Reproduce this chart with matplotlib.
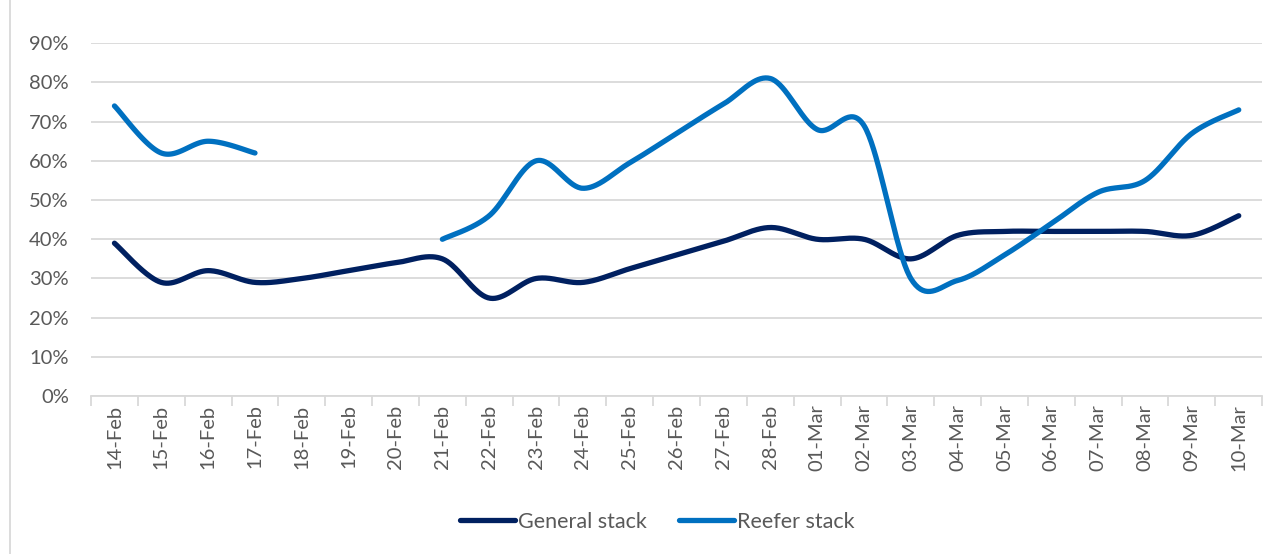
import numpy as np
import matplotlib.pyplot as plt
from matplotlib.lines import Line2D
from matplotlib.patches import Rectangle

plt.rcParams['font.family'] = ['Lato', 'DejaVu Sans']

dates = ['14-Feb', '15-Feb', '16-Feb', '17-Feb', '18-Feb', '19-Feb', '20-Feb',
         '21-Feb', '22-Feb', '23-Feb', '24-Feb', '25-Feb', '26-Feb', '27-Feb',
         '28-Feb', '01-Mar', '02-Mar', '03-Mar', '04-Mar', '05-Mar', '06-Mar',
         '07-Mar', '08-Mar', '09-Mar', '10-Mar']
general = [39, 29, 32, 29, 30, 32, 34, 35, 25, 30, 29, 32.5, 36, 39.5, 43,
           40, 40, 35, 41, 42, 42, 42, 42, 41, 46]
reefer = [74, 62, 65, 62, None, None, None, 40, 46, 60, 53, 59.5, 67, 74.5, 81,
          68, 69, 30, 29.5, 36, 44, 52, 55, 67, 73]

GEN_COLOR = '#002060'
REEF_COLOR = '#0070C0'
TEXT_COLOR = '#595959'


def smooth(xs, ys, n=40):
    # Catmull-Rom style bezier through the points (like a "smoothed line")
    xs = np.asarray(xs, float)
    ys = np.asarray(ys, float)
    if len(xs) < 2:
        return xs, ys
    px = np.concatenate([[xs[0]], xs, [xs[-1]]])
    py = np.concatenate([[ys[0]], ys, [ys[-1]]])
    out_x, out_y = [], []
    t = np.linspace(0, 1, n)
    for i in range(1, len(px) - 2):
        p0 = np.array([px[i], py[i]])
        p3 = np.array([px[i + 1], py[i + 1]])
        c1 = p0 + (p3 - np.array([px[i - 1], py[i - 1]])) / 6
        c2 = p3 - (np.array([px[i + 2], py[i + 2]]) - p0) / 6
        b = ((1 - t) ** 3)[:, None] * p0 + (3 * (1 - t) ** 2 * t)[:, None] * c1 \
            + (3 * (1 - t) * t ** 2)[:, None] * c2 + (t ** 3)[:, None] * p3
        out_x.extend(b[:, 0])
        out_y.extend(b[:, 1])
    return np.array(out_x), np.array(out_y)


def segments(values):
    # split a series at missing values
    segs, cur = [], []
    for i, v in enumerate(values):
        if v is None:
            if cur:
                segs.append(cur)
            cur = []
        else:
            cur.append((i, v))
    if cur:
        segs.append(cur)
    return segs


fig = plt.figure(figsize=(12.84, 5.54), dpi=100)
ax = fig.add_axes([0.0709, 0.285, 0.9121, 0.637])

for values, color in [(general, GEN_COLOR), (reefer, REEF_COLOR)]:
    for seg in segments(values):
        xs = [p[0] for p in seg]
        ys = [p[1] / 100 for p in seg]
        sx, sy = smooth(xs, ys)
        ax.plot(sx, sy, color=color, lw=3.8, solid_capstyle='round', zorder=3)

ax.set_xlim(-0.5, len(dates) - 0.5)
ax.set_ylim(0, 0.9)
ax.set_yticks(np.arange(0, 0.91, 0.1))
ax.set_yticklabels([f'{int(round(v * 100))}%' for v in np.arange(0, 0.91, 0.1)])
ax.yaxis.grid(True, color='#D9D9D9', lw=1.3)
ax.set_axisbelow(True)

ax.set_xticks(range(len(dates)))
ax.set_xticklabels(dates, rotation=90)
ax.set_xticks(np.arange(-0.5, len(dates), 1), minor=True)
ax.tick_params(axis='x', which='major', length=0, pad=6)
ax.tick_params(axis='x', which='minor', length=7, color='#D9D9D9', width=1.3)
ax.tick_params(axis='y', length=0, pad=16)
ax.tick_params(labelsize=14.5, labelcolor=TEXT_COLOR)

for s in ['top', 'right', 'left']:
    ax.spines[s].set_visible(False)
ax.spines['bottom'].set_color('#D9D9D9')
ax.spines['bottom'].set_linewidth(1.3)

handles = [Line2D([], [], color=GEN_COLOR, lw=3.8, solid_capstyle='round'),
           Line2D([], [], color=REEF_COLOR, lw=3.8, solid_capstyle='round')]
fig.legend(handles, ['General stack', 'Reefer stack'], loc='center',
           bbox_to_anchor=(0.512, 0.058), ncol=2, frameon=False, fontsize=15.5,
           labelcolor=TEXT_COLOR, handlelength=2.55, handletextpad=0.15,
           columnspacing=1.5)

# chart area border
fig.patches.append(Rectangle((10 / 1284, -0.01), 1.0, 1.02, transform=fig.transFigure,
                             fill=False, edgecolor='#D9D9D9', lw=1.3))

fig.savefig('out.png', dpi=100)
